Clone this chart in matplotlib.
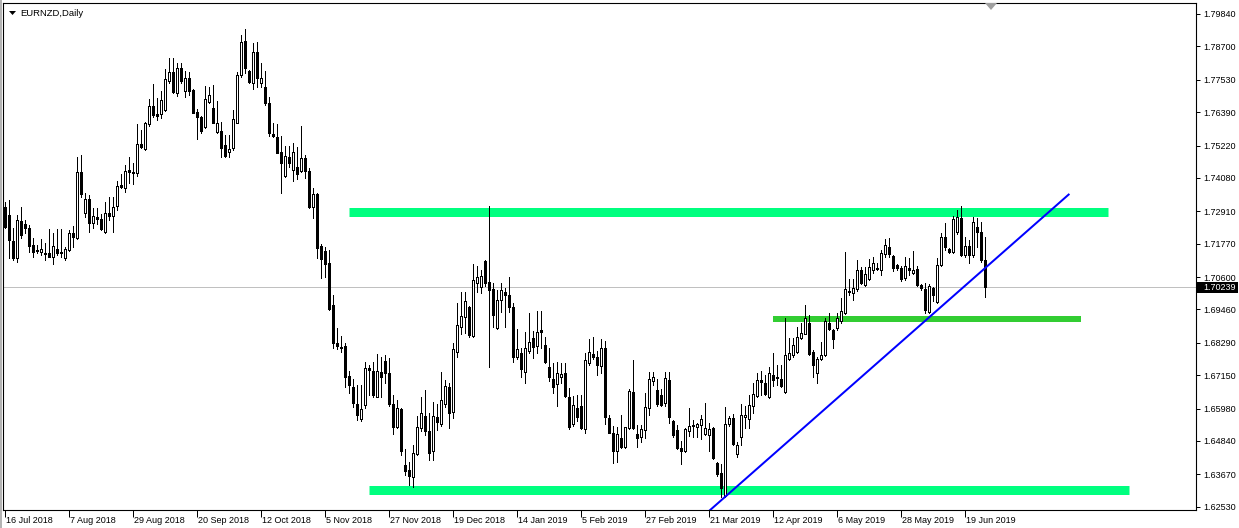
import matplotlib
matplotlib.use('Agg')
import matplotlib.pyplot as plt
import matplotlib.transforms as mtrans
from matplotlib.patches import Rectangle, Polygon

plt.rcParams['font.family'] = ['Liberation Sans', 'DejaVu Sans']

# EURNZD daily candles, 16 Jul 2018 .. 27 Jun 2019
opens = [
    1.7307, 1.7278, 1.7188, 1.7126, 1.7257, 1.7246, 1.7231, 1.7173, 1.7155, 1.7149,
    1.7143, 1.7143, 1.7132, 1.7157, 1.7149, 1.7126, 1.7155, 1.7213, 1.7196, 1.7428,
    1.7284, 1.7333, 1.7249, 1.7270, 1.7263, 1.7219, 1.7286, 1.7274, 1.7309, 1.7383,
    1.7372, 1.7436, 1.7430, 1.7424, 1.7526, 1.7509, 1.7596, 1.7661, 1.7632, 1.7632,
    1.7647, 1.7750, 1.7779, 1.7705, 1.7793, 1.7714, 1.7758, 1.7717, 1.7639, 1.7621,
    1.7588, 1.7674, 1.7653, 1.7571, 1.7573, 1.7524, 1.7498, 1.7512, 1.7602, 1.7770,
    1.7889, 1.7784, 1.7740, 1.7849, 1.7740, 1.7729, 1.7670, 1.7562, 1.7553, 1.7500,
    1.7416, 1.7483, 1.7436, 1.7448, 1.7434, 1.7479, 1.7432, 1.7305, 1.7352, 1.7169,
    1.7151, 1.7108, 1.6962, 1.6829, 1.6815, 1.6818, 1.6712, 1.6675, 1.6614, 1.6562,
    1.6610, 1.6739, 1.6730, 1.6640, 1.6728, 1.6765, 1.6724, 1.6614, 1.6534, 1.6595,
    1.6400, 1.6382, 1.6359, 1.6438, 1.6528, 1.6572, 1.6520, 1.6450, 1.6567, 1.6544,
    1.6614, 1.6672, 1.6587, 1.6798, 1.6886, 1.6918, 1.6956, 1.6853, 1.7040, 1.7024,
    1.7117, 1.7044, 1.7017, 1.6880, 1.6979, 1.7009, 1.6997, 1.6956, 1.6778, 1.6792,
    1.6728, 1.6801, 1.6845, 1.6818, 1.6874, 1.6821, 1.6745, 1.6701, 1.6684, 1.6708,
    1.6722, 1.6637, 1.6544, 1.6599, 1.6607, 1.6525, 1.6759, 1.6788, 1.6778, 1.6747,
    1.6809, 1.6564, 1.6513, 1.6450, 1.6493, 1.6464, 1.6529, 1.6657, 1.6509, 1.6497,
    1.6523, 1.6599, 1.6696, 1.6663, 1.6646, 1.6619, 1.6698, 1.6555, 1.6523, 1.6458,
    1.6450, 1.6520, 1.6540, 1.6534, 1.6540, 1.6509, 1.6505, 1.6529, 1.6406, 1.6373,
    1.6291, 1.6544, 1.6564, 1.6437, 1.6499, 1.6567, 1.6560, 1.6607, 1.6642, 1.6698,
    1.6689, 1.6637, 1.6716, 1.6708, 1.6701, 1.6657, 1.6771, 1.6786, 1.6798, 1.6845,
    1.6860, 1.6900, 1.6798, 1.6722, 1.6771, 1.6786, 1.6897, 1.6874, 1.6882, 1.6906,
    1.6935, 1.7011, 1.7003, 1.7017, 1.7085, 1.7032, 1.7052, 1.7085, 1.7092, 1.7085,
    1.7141, 1.7167, 1.7134, 1.7102, 1.7090, 1.7055, 1.7090, 1.7075, 1.7087, 1.7032,
    1.7017, 1.6938, 1.7020, 1.6973, 1.7102, 1.7199, 1.7157, 1.7149, 1.7219, 1.7266,
    1.7137, 1.7169, 1.7137, 1.7237, 1.7219, 1.7120,
]
highs = [
    1.7325, 1.7331, 1.7231, 1.7278, 1.7305, 1.7260, 1.7243, 1.7196, 1.7173, 1.7192,
    1.7178, 1.7228, 1.7213, 1.7228, 1.7228, 1.7167, 1.7225, 1.7239, 1.7483, 1.7489,
    1.7354, 1.7348, 1.7301, 1.7301, 1.7280, 1.7325, 1.7342, 1.7342, 1.7397, 1.7422,
    1.7454, 1.7483, 1.7462, 1.7598, 1.7577, 1.7606, 1.7684, 1.7738, 1.7688, 1.7714,
    1.7790, 1.7828, 1.7828, 1.7811, 1.7811, 1.7785, 1.7781, 1.7719, 1.7649, 1.7626,
    1.7731, 1.7729, 1.7735, 1.7678, 1.7606, 1.7559, 1.7559, 1.7647, 1.7781, 1.7910,
    1.7930, 1.7787, 1.7881, 1.7887, 1.7813, 1.7785, 1.7694, 1.7600, 1.7598, 1.7555,
    1.7520, 1.7520, 1.7530, 1.7518, 1.7591, 1.7489, 1.7442, 1.7372, 1.7356, 1.7175,
    1.7167, 1.7155, 1.6997, 1.6880, 1.6853, 1.6829, 1.6730, 1.6701, 1.6681, 1.6681,
    1.6763, 1.6751, 1.6763, 1.6790, 1.6780, 1.6786, 1.6774, 1.6646, 1.6628, 1.6599,
    1.6455, 1.6411, 1.6470, 1.6572, 1.6640, 1.6663, 1.6581, 1.6622, 1.6614, 1.6728,
    1.6698, 1.6686, 1.6827, 1.6970, 1.7009, 1.7009, 1.6958, 1.7106, 1.7099, 1.7085,
    1.7120, 1.7309, 1.7040, 1.7014, 1.7038, 1.7020, 1.7059, 1.6968, 1.6876, 1.6809,
    1.6868, 1.6935, 1.6872, 1.6942, 1.6941, 1.6850, 1.6809, 1.6759, 1.6763, 1.6759,
    1.6759, 1.6669, 1.6642, 1.6646, 1.6646, 1.6794, 1.6841, 1.6850, 1.6801, 1.6841,
    1.6836, 1.6575, 1.6537, 1.6534, 1.6575, 1.6534, 1.6666, 1.6769, 1.6540, 1.6540,
    1.6651, 1.6728, 1.6728, 1.6701, 1.6666, 1.6728, 1.6728, 1.6558, 1.6540, 1.6485,
    1.6529, 1.6599, 1.6558, 1.6548, 1.6575, 1.6616, 1.6546, 1.6534, 1.6411, 1.6403,
    1.6602, 1.6572, 1.6579, 1.6482, 1.6614, 1.6607, 1.6646, 1.6687, 1.6722, 1.6731,
    1.6716, 1.6745, 1.6792, 1.6751, 1.6751, 1.6915, 1.6845, 1.6845, 1.6886, 1.6900,
    1.6962, 1.6925, 1.6804, 1.6778, 1.6833, 1.6915, 1.6932, 1.6876, 1.6932, 1.6985,
    1.7149, 1.7052, 1.7052, 1.7120, 1.7094, 1.7094, 1.7122, 1.7132, 1.7110, 1.7155,
    1.7192, 1.7196, 1.7137, 1.7106, 1.7099, 1.7129, 1.7126, 1.7153, 1.7099, 1.7035,
    1.7038, 1.7035, 1.7026, 1.7126, 1.7216, 1.7250, 1.7161, 1.7274, 1.7295, 1.7310,
    1.7199, 1.7190, 1.7272, 1.7266, 1.7254, 1.7199,
]
lows = [
    1.7231, 1.7126, 1.7120, 1.7114, 1.7196, 1.7213, 1.7149, 1.7129, 1.7143, 1.7137,
    1.7120, 1.7129, 1.7105, 1.7137, 1.7129, 1.7120, 1.7153, 1.7167, 1.7192, 1.7342,
    1.7272, 1.7219, 1.7231, 1.7246, 1.7225, 1.7213, 1.7260, 1.7219, 1.7295, 1.7372,
    1.7360, 1.7389, 1.7387, 1.7415, 1.7512, 1.7506, 1.7591, 1.7623, 1.7612, 1.7618,
    1.7644, 1.7740, 1.7708, 1.7696, 1.7740, 1.7694, 1.7699, 1.7635, 1.7544, 1.7565,
    1.7582, 1.7670, 1.7600, 1.7565, 1.7480, 1.7480, 1.7483, 1.7506, 1.7600, 1.7764,
    1.7776, 1.7740, 1.7719, 1.7729, 1.7729, 1.7664, 1.7555, 1.7553, 1.7495, 1.7354,
    1.7413, 1.7448, 1.7399, 1.7403, 1.7430, 1.7407, 1.7301, 1.7266, 1.7126, 1.7058,
    1.7061, 1.6944, 1.6809, 1.6806, 1.6798, 1.6675, 1.6651, 1.6605, 1.6558, 1.6555,
    1.6599, 1.6646, 1.6640, 1.6637, 1.6640, 1.6689, 1.6607, 1.6509, 1.6528, 1.6435,
    1.6364, 1.6329, 1.6324, 1.6435, 1.6520, 1.6505, 1.6417, 1.6417, 1.6523, 1.6537,
    1.6605, 1.6528, 1.6564, 1.6780, 1.6860, 1.6862, 1.6850, 1.6848, 1.7009, 1.7005,
    1.7028, 1.6745, 1.6886, 1.6876, 1.6938, 1.6883, 1.6938, 1.6763, 1.6771, 1.6710,
    1.6689, 1.6792, 1.6774, 1.6792, 1.6809, 1.6759, 1.6696, 1.6654, 1.6607, 1.6686,
    1.6640, 1.6525, 1.6537, 1.6555, 1.6525, 1.6513, 1.6751, 1.6771, 1.6716, 1.6724,
    1.6544, 1.6511, 1.6408, 1.6411, 1.6458, 1.6458, 1.6525, 1.6525, 1.6462, 1.6482,
    1.6493, 1.6575, 1.6681, 1.6607, 1.6607, 1.6607, 1.6548, 1.6499, 1.6455, 1.6403,
    1.6446, 1.6501, 1.6499, 1.6499, 1.6490, 1.6505, 1.6450, 1.6420, 1.6361, 1.6288,
    1.6288, 1.6537, 1.6470, 1.6429, 1.6470, 1.6529, 1.6529, 1.6581, 1.6640, 1.6646,
    1.6646, 1.6634, 1.6677, 1.6681, 1.6672, 1.6654, 1.6769, 1.6780, 1.6792, 1.6841,
    1.6860, 1.6787, 1.6708, 1.6689, 1.6769, 1.6783, 1.6874, 1.6809, 1.6874, 1.6900,
    1.6930, 1.6997, 1.6979, 1.7012, 1.7035, 1.7028, 1.7050, 1.7073, 1.7085, 1.7067,
    1.7132, 1.7129, 1.7082, 1.7085, 1.7047, 1.7050, 1.7067, 1.7071, 1.7028, 1.7014,
    1.6935, 1.6935, 1.6977, 1.6970, 1.7099, 1.7155, 1.7143, 1.7143, 1.7211, 1.7134,
    1.7129, 1.7108, 1.7132, 1.7166, 1.7114, 1.6989,
]
closes = [
    1.7237, 1.7190, 1.7126, 1.7260, 1.7208, 1.7231, 1.7170, 1.7149, 1.7151, 1.7157,
    1.7140, 1.7132, 1.7169, 1.7146, 1.7143, 1.7157, 1.7213, 1.7199, 1.7428, 1.7352,
    1.7333, 1.7249, 1.7274, 1.7263, 1.7228, 1.7284, 1.7274, 1.7307, 1.7380, 1.7377,
    1.7434, 1.7430, 1.7424, 1.7526, 1.7516, 1.7600, 1.7661, 1.7629, 1.7626, 1.7682,
    1.7754, 1.7779, 1.7709, 1.7793, 1.7750, 1.7758, 1.7715, 1.7637, 1.7621, 1.7574,
    1.7684, 1.7699, 1.7602, 1.7600, 1.7512, 1.7485, 1.7509, 1.7614, 1.7770, 1.7887,
    1.7795, 1.7744, 1.7849, 1.7758, 1.7758, 1.7670, 1.7567, 1.7555, 1.7497, 1.7462,
    1.7485, 1.7459, 1.7498, 1.7422, 1.7479, 1.7434, 1.7305, 1.7352, 1.7163, 1.7122,
    1.7105, 1.6946, 1.6827, 1.6818, 1.6809, 1.6710, 1.6681, 1.6616, 1.6574, 1.6595,
    1.6739, 1.6733, 1.6646, 1.6730, 1.6710, 1.6724, 1.6614, 1.6534, 1.6599, 1.6450,
    1.6380, 1.6361, 1.6443, 1.6532, 1.6581, 1.6520, 1.6443, 1.6572, 1.6552, 1.6628,
    1.6677, 1.6583, 1.6806, 1.6891, 1.6923, 1.6976, 1.6856, 1.7050, 1.7061, 1.7064,
    1.7040, 1.7014, 1.6927, 1.6979, 1.7014, 1.6997, 1.6956, 1.6780, 1.6806, 1.6736,
    1.6809, 1.6833, 1.6815, 1.6868, 1.6868, 1.6763, 1.6710, 1.6672, 1.6722, 1.6718,
    1.6642, 1.6532, 1.6610, 1.6569, 1.6528, 1.6769, 1.6795, 1.6780, 1.6751, 1.6812,
    1.6567, 1.6513, 1.6450, 1.6509, 1.6464, 1.6532, 1.6661, 1.6529, 1.6493, 1.6525,
    1.6602, 1.6701, 1.6708, 1.6614, 1.6610, 1.6704, 1.6567, 1.6505, 1.6458, 1.6450,
    1.6525, 1.6537, 1.6537, 1.6544, 1.6560, 1.6529, 1.6525, 1.6423, 1.6368, 1.6318,
    1.6542, 1.6564, 1.6473, 1.6470, 1.6575, 1.6575, 1.6610, 1.6649, 1.6698, 1.6692,
    1.6649, 1.6722, 1.6698, 1.6704, 1.6677, 1.6786, 1.6792, 1.6821, 1.6848, 1.6862,
    1.6915, 1.6790, 1.6751, 1.6771, 1.6786, 1.6905, 1.6876, 1.6841, 1.6915, 1.6942,
    1.7017, 1.7006, 1.7020, 1.7085, 1.7040, 1.7071, 1.7094, 1.7108, 1.7089, 1.7145,
    1.7172, 1.7141, 1.7090, 1.7090, 1.7052, 1.7099, 1.7085, 1.7085, 1.7032, 1.7020,
    1.6944, 1.7028, 1.6997, 1.7102, 1.7199, 1.7166, 1.7149, 1.7263, 1.7272, 1.7137,
    1.7169, 1.7137, 1.7254, 1.7219, 1.7120, 1.70239,
]

date_pos = [0, 16, 32, 48, 64, 80, 96, 112, 128, 144, 160, 176, 192, 208, 224, 240]
date_labels = ['16 Jul 2018', '7 Aug 2018', '29 Aug 2018', '20 Sep 2018', '12 Oct 2018',
               '5 Nov 2018', '27 Nov 2018', '19 Dec 2018', '14 Jan 2019', '5 Feb 2019',
               '27 Feb 2019', '21 Mar 2019', '12 Apr 2019', '6 May 2019', '28 May 2019',
               '19 Jun 2019']
price_ticks = [1.79840, 1.78700, 1.77530, 1.76390, 1.75220, 1.74080, 1.72910, 1.71770,
               1.70600, 1.69460, 1.68290, 1.67150, 1.65980, 1.64840, 1.63670, 1.62530]
last_price = 1.70239

# drawn objects: bar index from/to and price level
top_zone_x, top_zone_y = [86, 275.75], [1.7287, 1.7287]
mid_zone_x, mid_zone_y = [192, 269], [1.6913, 1.6913]
low_zone_x, low_zone_y = [91, 281], [1.6311, 1.6311]
trend_x, trend_y = [176, 266.1], [1.6238, 1.7352]

W, H = 1239, 528
fig = plt.figure(figsize=(W / 100, H / 100), dpi=100)
ax = fig.add_axes([3 / W, 1 - 510 / H, 1193 / W, 507 / H])
ax.set_xlim(-0.5, 297.75)
ax.set_ylim(1.62416, 1.80226)

px = 0.72  # one pixel in points

ax.axhline(last_price, color='#C0C0C0', lw=px, zorder=1)
ax.plot(top_zone_x, top_zone_y, color='#00FF7F', lw=9 * px, solid_capstyle='butt', zorder=2)
ax.plot(low_zone_x, low_zone_y, color='#00FF7F', lw=9 * px, solid_capstyle='butt', zorder=2)
ax.plot(mid_zone_x, mid_zone_y, color='#32CD32', lw=6 * px, solid_capstyle='butt', zorder=2)

x = list(range(len(closes)))
body_lo = [min(o, c) for o, c in zip(opens, closes)]
body_h = [abs(c - o) for o, c in zip(opens, closes)]
fills = ['white' if c >= o else 'black' for o, c in zip(opens, closes)]
ax.vlines(x, lows, highs, color='black', lw=px, antialiased=False, zorder=3)
ax.bar(x, body_h, bottom=body_lo, width=0.5, color=fills, edgecolor='black',
       linewidth=px, antialiased=False, zorder=4)

ax.plot(trend_x, trend_y, color='#0000FF', lw=2 * px, solid_capstyle='butt', zorder=5)

for s in ax.spines.values():
    s.set_linewidth(px * 1.1)
    s.set_color('black')

ax.set_xticks(date_pos)
ax.set_xticklabels(date_labels, ha='left')
ax.tick_params(axis='x', length=7 * px, width=px, direction='out', pad=-1 * px,
               labelsize=6.5, colors='black')
shift = mtrans.ScaledTranslation(1 / 100, 0, fig.dpi_scale_trans)
for lab in ax.get_xticklabels():
    lab.set_transform(lab.get_transform() + shift)

ax.yaxis.tick_right()
ax.set_yticks(price_ticks)
ax.set_yticklabels(['%.5f' % p for p in price_ticks])
ax.tick_params(axis='y', length=4 * px, width=px, direction='out', pad=3 * px,
               labelsize=6.5, colors='black')

# current price box
yax = mtrans.blended_transform_factory(ax.transAxes, ax.transData)
ax.add_patch(Rectangle((1 + 1 / 1193, last_price - 0.00195), 41 / 1193, 0.0039,
                       transform=yax, facecolor='black', edgecolor='none', clip_on=False,
                       zorder=6))
ax.text(1 + 7 / 1193, last_price, '%.5f' % last_price, transform=yax, color='white',
        fontsize=6.5, va='center', ha='left', clip_on=False, zorder=7)

# window chrome
fig.patches.append(Rectangle((0, 0), 2 / W, 1, transform=fig.transFigure,
                             facecolor='#B4B4B4', edgecolor='none'))
fig.patches.append(Polygon([[985 / W, 1 - 3 / H], [997 / W, 1 - 3 / H], [991 / W, 1 - 10 / H]],
                           closed=True, transform=fig.transFigure,
                           facecolor='#A0A0A0', edgecolor='none'))
fig.patches.append(Polygon([[9 / W, 1 - 11 / H], [16 / W, 1 - 11 / H], [12.5 / W, 1 - 15 / H]],
                           closed=True, transform=fig.transFigure,
                           facecolor='black', edgecolor='none'))
fig.text(20 / W, 1 - 13 / H, 'EURNZD,Daily', fontsize=6.8, va='center', ha='left')

fig.savefig('out.png', dpi=100)
